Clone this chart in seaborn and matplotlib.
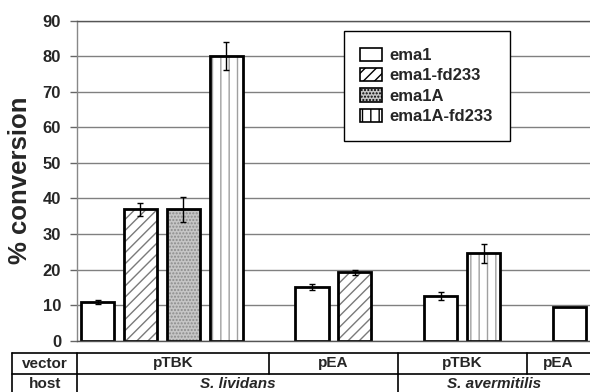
import numpy as np
import pandas as pd
import matplotlib
matplotlib.use("Agg")
import matplotlib.pyplot as plt
import seaborn as sns
from matplotlib.patches import Patch

# ---- data -------------------------------------------------------------
constructs = ["ema1", "ema1-fd233", "ema1A", "ema1A-fd233"]
bar_construct = ["ema1", "ema1-fd233", "ema1A", "ema1A-fd233",
                 "ema1", "ema1-fd233",
                 "ema1", "ema1A-fd233",
                 "ema1"]
bar_vector = ["pTBK", "pTBK", "pTBK", "pTBK",
              "pEA", "pEA",
              "pTBK", "pTBK",
              "pEA"]
bar_host = ["S. lividans"] * 6 + ["S. avermitilis"] * 3
conversion = [10.9, 37.0, 37.0, 80.0, 15.2, 19.2, 12.6, 24.6, 9.5]
error = [0.5, 1.8, 3.5, 4.0, 0.8, 0.8, 1.1, 2.7, np.nan]
yticks = [0, 10, 20, 30, 40, 50, 60, 70, 80, 90]

# ---- styling ----------------------------------------------------------
sns.set_theme(style="white")
plt.rcParams["font.family"] = ["Liberation Sans", "DejaVu Sans"]
plt.rcParams["font.weight"] = "bold"
plt.rcParams["hatch.linewidth"] = 1.0

styles = {
    "ema1":        dict(face="white",   hatch=None,    hcolor="black"),
    "ema1-fd233":  dict(face="white",   hatch="///",   hcolor="#7a7a7a"),
    "ema1A":       dict(face="#c6c6c6", hatch=".....", hcolor="#8c8c8c"),
    "ema1A-fd233": dict(face="white",   hatch="||",    hcolor="#a0a0a0"),
}

# ---- slot layout: bars of one host/vector group side by side ---------
slots, groups = [], []
pos, prev = 0, None
for h, v in zip(bar_host, bar_vector):
    key = (h, v)
    if prev is not None and key != prev:
        pos += 1
    slots.append(pos)
    if key != prev:
        groups.append([h, v, pos, pos])
    else:
        groups[-1][3] = pos
    prev = key
    pos += 1

df = pd.DataFrame({"slot": slots, "conversion": conversion, "error": error,
                   "construct": bar_construct})

fig = plt.figure(figsize=(5.9, 3.92), dpi=100)
ax = fig.add_axes([77 / 590, 51.3 / 392, 513 / 590, 320 / 392])

x_lo, x_hi = -0.478, 11.48
bar_w = 0.77

# filled / hatched bodies
sns.barplot(data=df, x="slot", y="conversion", hue="construct",
            hue_order=constructs, native_scale=True, dodge=False,
            width=bar_w, errorbar=None, legend=False,
            palette={c: styles[c]["face"] for c in constructs}, ax=ax)
slot_to_construct = dict(zip(slots, bar_construct))
for p in list(ax.patches):
    cx = p.get_x() + p.get_width() / 2
    s = min(slots, key=lambda k: abs(k - cx))
    st = styles[slot_to_construct[s]]
    p.set_facecolor(st["face"])
    p.set_edgecolor(st["hcolor"])
    p.set_linewidth(0)
    if st["hatch"]:
        p.set_hatch(st["hatch"])

# black outlines
sns.barplot(data=df, x="slot", y="conversion", native_scale=True,
            width=bar_w, errorbar=None, fill=False, color="black",
            linewidth=2.0, ax=ax)

# error bars
ok = df["error"].notna()
ax.errorbar(df.loc[ok, "slot"], df.loc[ok, "conversion"],
            yerr=df.loc[ok, "error"], fmt="none", ecolor="black",
            elinewidth=1.0, capsize=2.5, capthick=1.0, zorder=5)

ax.set_xlim(x_lo, x_hi)
ax.set_ylim(0, 90)
ax.set_yticks(yticks, labels=[str(t) for t in yticks], fontsize=12,
              fontweight="bold")
ax.set_xticks([])
ax.set_xlabel("")
ax.set_ylabel("% conversion", fontsize=18.5, fontweight="bold")
ax.yaxis.set_label_coords(-0.088, 0.5)
ax.tick_params(axis="y", which="major", left=True, length=5, width=1,
               color="#666666", pad=6.5)

ax.yaxis.grid(True, color="#808080", linewidth=1.0)
ax.set_axisbelow(True)
ax.spines["right"].set_visible(False)
for side in ["top", "bottom"]:
    ax.spines[side].set_linestyle((0, (1.5, 1)))
    ax.spines[side].set_color("#555555")
    ax.spines[side].set_linewidth(1.0)
ax.spines["left"].set_color("#888888")
ax.spines["left"].set_linewidth(1.0)

# legend
handles = [Patch(facecolor=styles[c]["face"], edgecolor="black",
                 hatch=styles[c]["hatch"], linewidth=1.2, label=c)
           for c in constructs]
leg = ax.legend(handles=handles, loc="upper left",
                bbox_to_anchor=(0.52, 0.968), frameon=True, fancybox=False,
                framealpha=1, edgecolor="black", fontsize=12,
                handlelength=1.3, handleheight=0.85, handletextpad=0.45,
                labelspacing=0.3, borderpad=1.0, borderaxespad=0)
leg.get_frame().set_linewidth(1.0)
for t in leg.get_texts():
    t.set_fontweight("bold")

# ---- vector / host table below the bars ------------------------------
tax = fig.add_axes([77 / 590, -3 / 392, 513 / 590, 42 / 392], sharex=ax)
tax.set_ylim(0, 2)
tax.axis("off")
label_left = -1.99
lc = dict(color="black", linewidth=1.2, clip_on=False)
tfont = dict(fontsize=11, fontweight="bold")

for y in (1, 2):
    tax.plot([label_left, x_hi], [y, y], **lc)
for x in (label_left, x_lo):
    tax.plot([x, x], [0, 2], **lc)

# vector cells
edges = [x_lo]
for g0, g1 in zip(groups[:-1], groups[1:]):
    edges.append((g0[3] + g1[2]) / 2)
edges.append(x_hi)
for i, g in enumerate(groups):
    if 0 < i:
        tax.plot([edges[i], edges[i]], [1, 2], **lc)
    tax.text((edges[i] + edges[i + 1]) / 2, 1.5, g[1], ha="center",
             va="center", **tfont)

# host cells (merge neighbouring groups of the same host)
host_cells = []
for i, g in enumerate(groups):
    if host_cells and host_cells[-1][0] == g[0]:
        host_cells[-1][2] = edges[i + 1]
    else:
        host_cells.append([g[0], edges[i], edges[i + 1]])
for j, (h, a, b) in enumerate(host_cells):
    if j > 0:
        tax.plot([a, a], [0, 1], **lc)
    tax.text((a + b) / 2, 0.5, h, ha="center", va="center",
             fontstyle="italic", **tfont)

tax.text((label_left + x_lo) / 2, 1.5, "vector", ha="center", va="center",
         **tfont)
tax.text((label_left + x_lo) / 2, 0.5, "host", ha="center", va="center",
         **tfont)

fig.savefig("out.png", dpi=100)
